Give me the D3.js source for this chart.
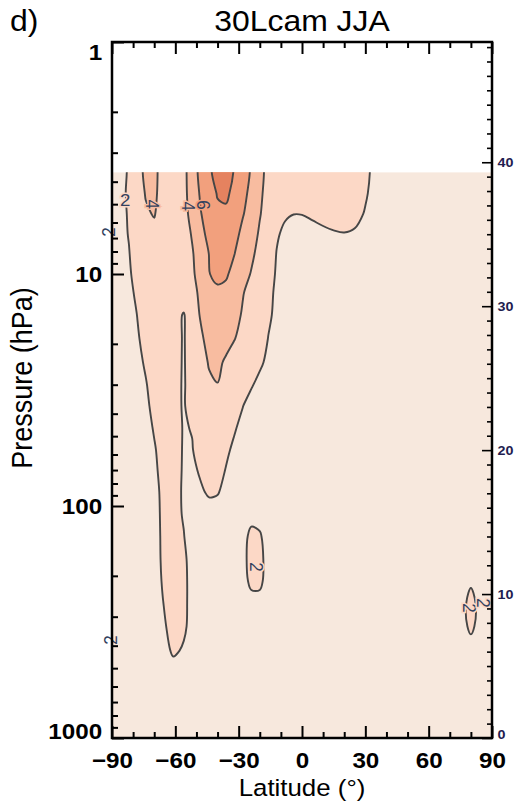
<!DOCTYPE html>
<html>
<head>
<meta charset="utf-8">
<script src="https://cdn.jsdelivr.net/npm/d3@7"></script>
<style>
  body { margin: 0; background: #fff; }
  svg { display: block; }
  text { font-family: "Liberation Sans", Arial, Helvetica, sans-serif; }
</style>
</head>
<body>
<svg id="chart" width="520" height="801"></svg>
<script>
// Grid latitudes (deg) and model pressure levels (hPa)
const lats = [-90, -86, -82, -78, -74, -70, -66, -61, -56, -52, -48, -44, -40, -36, -32, -28, -24, -20, -16, -12,
              -8, -4, 0, 5, 10, 15, 20, 25, 30, 35, 40, 50, 60, 70, 75, 80, 85, 90];
const pressures = [3.64, 4.5, 5.5, 6.7, 8.2, 10, 12, 15, 19, 24, 30, 37, 46, 57, 70, 87, 108, 135, 170, 210,
                   260, 330, 420, 520, 650, 800, 1000];

// Zonal-mean field, one row per pressure level, one value per latitude
const r0  = [1.4,1.7,2.1,3.3,4.4,4.4,3.4,3.2,3.7,4.6, 6.8,7.6,8.9,9.3,7.8,6.9,5.8,4.5,3.5,3.2, 3.0,2.8,2.6,2.6,2.6,2.6,2.6,2.5,2.3,1.6, 1.4,1.2,1.1,1.1,1.1,1.2,1.2,1.2];
const r1  = [1.4,1.75,2.15,3.2,4.1,4.3,3.4,3.2,3.7,4.5, 6.3,7.3,8.1,8.4,7.4,6.5,5.5,4.3,3.4,3.0, 2.8,2.6,2.5,2.6,2.6,2.6,2.6,2.5,2.15,1.5, 1.3,1.1,1.1,1.1,1.1,1.2,1.2,1.2];
const r2  = [1.4,1.7,2.1,3.0,3.8,4.1,3.3,3.1,3.6,4.4, 5.9,7.0,7.7,7.6,7.1,6.1,5.3,4.1,3.3,2.7, 2.15,2.02,2.05,2.3,2.4,2.5,2.5,2.4,1.9,1.4, 1.2,1.1,1.1,1.1,1.1,1.1,1.1,1.1];
const r3  = [1.4,1.7,2.05,2.8,3.2,3.6,3.3,3.2,3.5,4.1, 5.5,6.5,6.9,7.0,6.5,5.6,4.7,3.8,3.0,2.15, 1.75,1.5,1.2,1.4,1.75,1.9,1.97,1.85,1.5,1.3, 1.2,1.1,1.1,1.1,1.1,1.1,1.1,1.1];
const r4  = [1.4,1.6,1.95,2.5,2.8,3.0,3.1,3.2,3.5,3.9, 4.6,6.05,6.5,6.6,6.02,5.2,4.3,3.5,2.8,1.95, 1.5,1.3,1.1,1.2,1.3,1.4,1.45,1.4,1.3,1.2, 1.1,1.1,1.1,1.1,1.1,1.1,1.1,1.1];
const r5  = [1.4,1.5,1.85,2.4,2.6,2.8,2.9,3.0,3.3,3.8, 4.5,5.95,6.4,6.2,5.5,4.6,3.9,3.2,2.6,1.85, 1.4,1.2,1.1,1.1,1.1,1.1,1.1,1.1,1.1,1.1, 1.1,1.1,1.1,1.1,1.1,1.1,1.1,1.1];
const r6  = [1.4,1.5,1.75,2.2,2.5,2.7,2.8,2.9,3.2,3.7, 4.2,5.0,5.7,5.6,5.0,4.1,3.4,2.9,2.3,1.8, 1.3,1.2,1.1,1.1,1.1,1.1,1.1,1.1,1.1,1.1, 1.1,1.1,1.1,1.1,1.1,1.1,1.1,1.1];
const r7  = [1.3,1.4,1.6,2.02,2.4,2.6,2.7,2.8,1.85,3.4, 4.1,4.7,5.3,5.2,4.6,3.8,3.2,2.7,2.15,1.8, 1.3,1.2,1.1,1.1,1.1,1.1,1.1,1.1,1.1,1.1, 1.1,1.1,1.1,1.1,1.1,1.1,1.1,1.1];
const r8  = [1.3,1.4,1.6,1.9,2.3,2.5,2.6,2.7,1.85,3.1, 3.8,4.4,4.7,4.5,4.05,3.5,2.9,2.5,1.98,1.6, 1.3,1.2,1.1,1.1,1.1,1.1,1.1,1.1,1.1,1.1, 1.1,1.1,1.1,1.1,1.1,1.1,1.1,1.1];
const r9  = [1.3,1.4,1.5,1.8,2.1,2.4,2.5,2.6,1.85,2.9, 3.5,4.1,4.3,3.8,3.3,2.9,2.6,2.2,1.75,1.5, 1.3,1.2,1.1,1.1,1.1,1.1,1.1,1.1,1.1,1.1, 1.1,1.1,1.1,1.1,1.1,1.1,1.1,1.1];
const r10 = [1.3,1.35,1.45,1.7,1.95,2.3,2.4,2.5,1.85,2.7, 3.2,3.8,3.97,3.6,3.1,2.6,2.1,1.7,1.5,1.35, 1.25,1.2,1.1,1.1,1.1,1.1,1.1,1.1,1.1,1.1, 1.1,1.1,1.1,1.1,1.1,1.1,1.1,1.1];
const r11 = [1.3,1.35,1.45,1.65,1.85,2.2,2.3,2.35,1.9,2.5, 2.9,3.2,3.3,3.1,2.7,2.02,1.6,1.45,1.35,1.3, 1.2,1.15,1.1,1.1,1.1,1.1,1.1,1.1,1.1,1.1, 1.1,1.1,1.1,1.1,1.1,1.1,1.1,1.1];
const r12 = [1.3,1.35,1.45,1.6,1.8,2.05,2.25,2.3,1.95,2.03, 2.5,2.8,2.9,2.7,2.1,1.7,1.45,1.35,1.3,1.25, 1.2,1.15,1.1,1.1,1.1,1.1,1.1,1.1,1.1,1.1, 1.1,1.1,1.1,1.1,1.1,1.1,1.1,1.1];
const r13 = [1.3,1.35,1.45,1.55,1.7,1.95,2.2,2.25,1.95,1.97, 2.3,2.55,2.6,2.2,1.8,1.55,1.4,1.35,1.3,1.25, 1.2,1.15,1.1,1.1,1.1,1.1,1.1,1.1,1.1,1.1, 1.1,1.1,1.1,1.1,1.1,1.1,1.1,1.1];
const r14 = [1.3,1.35,1.4,1.5,1.65,1.9,2.15,2.2,1.95,1.85, 2.1,2.35,2.4,1.95,1.65,1.5,1.4,1.35,1.3,1.25, 1.2,1.15,1.1,1.1,1.1,1.1,1.1,1.1,1.1,1.1, 1.1,1.1,1.1,1.1,1.1,1.1,1.1,1.1];
const r15 = [1.3,1.35,1.4,1.5,1.6,1.85,2.1,2.15,1.95,1.8, 1.9,2.1,2.05,1.8,1.6,1.5,1.45,1.4,1.3,1.25, 1.2,1.15,1.1,1.1,1.1,1.1,1.1,1.1,1.1,1.1, 1.1,1.1,1.1,1.1,1.1,1.1,1.1,1.1];
const r16 = [1.3,1.35,1.4,1.45,1.55,1.8,2.1,2.2,1.95,1.7, 1.65,1.7,1.7,1.6,1.5,1.45,1.6,1.5,1.35,1.25, 1.2,1.15,1.1,1.1,1.1,1.1,1.1,1.1,1.1,1.1, 1.1,1.1,1.1,1.1,1.1,1.1,1.1,1.1];
const r17 = [1.3,1.35,1.4,1.45,1.5,1.75,2.1,2.25,2.02,1.7, 1.6,1.55,1.5,1.45,1.45,1.6,2.3,2.15,1.4,1.3, 1.2,1.15,1.1,1.1,1.1,1.1,1.1,1.1,1.1,1.1, 1.1,1.1,1.1,1.1,1.1,1.1,1.1,1.1];
const r18 = [1.3,1.35,1.4,1.45,1.5,1.7,2.1,2.3,2.15,1.7, 1.55,1.5,1.45,1.45,1.45,1.6,2.5,2.4,1.45,1.3, 1.2,1.15,1.1,1.1,1.1,1.1,1.1,1.1,1.1,1.1, 1.1,1.1,1.1,1.2,1.3,1.5,1.3,1.2];
const r19 = [1.3,1.35,1.4,1.45,1.5,1.7,2.05,2.3,2.2,1.7, 1.55,1.5,1.45,1.45,1.45,1.55,2.3,2.3,1.45,1.3, 1.2,1.15,1.1,1.1,1.1,1.1,1.1,1.1,1.1,1.1, 1.1,1.1,1.1,1.2,1.3,1.7,1.3,1.25];
const r20 = [1.3,1.35,1.4,1.45,1.5,1.65,1.98,2.3,2.2,1.7, 1.55,1.5,1.45,1.45,1.45,1.5,1.6,1.6,1.45,1.3, 1.2,1.15,1.1,1.1,1.1,1.1,1.1,1.1,1.1,1.1, 1.1,1.1,1.1,1.15,1.2,2.6,1.2,1.3];
const r21 = [1.3,1.35,1.4,1.45,1.5,1.6,1.85,2.3,2.15,1.7, 1.55,1.5,1.45,1.45,1.45,1.45,1.45,1.4,1.35,1.3, 1.2,1.15,1.1,1.1,1.1,1.1,1.1,1.1,1.1,1.1, 1.1,1.1,1.1,1.15,1.2,2.4,1.2,1.3];
const r22 = [1.3,1.35,1.4,1.45,1.5,1.55,1.6,2.15,1.9,1.65, 1.5,1.5,1.45,1.45,1.45,1.45,1.45,1.4,1.35,1.3, 1.2,1.15,1.1,1.1,1.1,1.1,1.1,1.1,1.1,1.1, 1.1,1.1,1.1,1.1,1.15,1.2,1.15,1.2];
const r23 = [1.3,1.35,1.4,1.45,1.5,1.5,1.55,1.6,1.55,1.5, 1.45,1.4,1.4,1.4,1.4,1.4,1.4,1.35,1.3,1.25, 1.2,1.15,1.1,1.1,1.1,1.1,1.1,1.1,1.1,1.1, 1.1,1.1,1.1,1.1,1.1,1.1,1.1,1.1];
const r24 = [1.3,1.3,1.35,1.4,1.4,1.45,1.45,1.5,1.45,1.4, 1.4,1.35,1.35,1.35,1.35,1.35,1.3,1.3,1.25,1.2, 1.2,1.15,1.1,1.1,1.1,1.1,1.1,1.1,1.1,1.1, 1.1,1.1,1.1,1.1,1.1,1.1,1.1,1.1];
const r25 = [1.25,1.25,1.3,1.3,1.35,1.35,1.4,1.4,1.4,1.35, 1.3,1.3,1.3,1.3,1.3,1.25,1.25,1.2,1.2,1.2, 1.15,1.1,1.1,1.1,1.1,1.1,1.1,1.1,1.1,1.1, 1.1,1.1,1.1,1.1,1.1,1.1,1.1,1.1];
const r26 = [1.2,1.2,1.25,1.25,1.3,1.3,1.3,1.3,1.3,1.3, 1.25,1.25,1.25,1.2,1.2,1.2,1.2,1.15,1.15,1.15, 1.1,1.1,1.1,1.1,1.1,1.1,1.1,1.1,1.1,1.1, 1.1,1.1,1.1,1.1,1.1,1.1,1.1,1.1];
const field = [r0, r1, r2, r3, r4, r5, r6, r7, r8, r9, r10, r11, r12, r13, r14, r15, r16, r17, r18, r19,
               r20, r21, r22, r23, r24, r25, r26];

// Contour levels and shading
const levels = [2, 4, 6, 8];
const levelColors = ["#fcd8c6", "#f8bca0", "#f2a07d", "#e5825f"];
const baseColor = "#f7e8dd";

// Axis ticks
const latTicks = [-90, -60, -30, 0, 30, 60, 90];
const latMinorTicks = [-80, -70, -50, -40, -20, -10, 10, 20, 40, 50, 70, 80];
const pressureTicks = [1, 10, 100, 1000];
const pressureMinorTicks = [2, 3, 4, 5, 6, 7, 8, 9, 20, 30, 40, 50, 60, 70, 80, 90, 200, 300, 400, 500, 600, 700, 800, 900];
const heightTicks = [0, 10, 20, 30, 40];
const heightMinorTicks = d3.range(1, 49).filter(z => z % 10 !== 0);

// Contour labels (text, latitude, pressure, rotation)
const contourLabels = [
  { text: "2", lat: -83.8, p: 4.8,  rot: 0 },
  { text: "4", lat: -70.6, p: 5.0,  rot: 90 },
  { text: "4", lat: -53.5, p: 5.1,  rot: 90 },
  { text: "6", lat: -46.4, p: 5.04, rot: 90 },
  { text: "2", lat: -91.9, p: 6.6,  rot: -90 },
  { text: "2", lat: -90.6, p: 378,  rot: -90 },
  { text: "2", lat: -21.3, p: 183,  rot: 90 },
  { text: "2", lat: 79.6,  p: 275,  rot: 90 },
  { text: "2", lat: 86.2,  p: 262,  rot: 90 }
];

const stretch = 1.1;   // horizontal text stretch
const scaleHeightKm = 7;

const svg = d3.select("#chart");
const x = d3.scaleLinear().domain([-90, 90]).range([112, 492]);
const y = d3.scaleLog().domain([1, 1000]).range([42, 738]);
// log-pressure altitude is linear in height
const z = d3.scaleLinear().domain([0, scaleHeightKm * Math.log(1000)]).range([738, 42]);

const plotTop = y(pressures[0]);
const plotBottom = y(1000);

svg.append("defs").append("clipPath").attr("id", "plotClip")
  .append("rect")
  .attr("x", x(-90)).attr("y", plotTop)
  .attr("width", x(90) - x(-90)).attr("height", plotBottom - plotTop);

// ---- contour field ----
// pad the grid by one sample on every side so contour lines run off the data edges
const nx = lats.length + 2, ny = pressures.length + 2;
const values = new Array(nx * ny);
for (let j = 0; j < ny; j++) {
  const jj = Math.min(Math.max(j - 1, 0), pressures.length - 1);
  for (let i = 0; i < nx; i++) {
    const ii = Math.min(Math.max(i - 1, 0), lats.length - 1);
    values[j * nx + i] = field[jj][ii];
  }
}
const colPx = [x(lats[0]) - 30, ...lats.map(x), x(lats[lats.length - 1]) + 30];
const rowPx = [plotTop - 30, ...pressures.map(y), plotBottom + 30];
const gx = d3.scaleLinear().domain(colPx.map((_, i) => i + 0.5)).range(colPx);
const gy = d3.scaleLinear().domain(rowPx.map((_, i) => i + 0.5)).range(rowPx);

const contours = d3.contours().size([nx, ny]).thresholds(levels)(values);
const ringLine = d3.line().curve(d3.curveCatmullRomClosed.alpha(0.5));
function geomPath(geom) {
  return geom.coordinates.map(poly =>
    poly.map(ring => ringLine(ring.slice(0, -1).map(([a, b]) => [gx(a), gy(b)]))).join("")
  ).join("");
}

const plot = svg.append("g").attr("clip-path", "url(#plotClip)");
plot.append("rect")
  .attr("x", x(-90)).attr("y", plotTop)
  .attr("width", x(90) - x(-90)).attr("height", plotBottom - plotTop)
  .attr("fill", baseColor);
plot.selectAll("path.band").data(contours).join("path")
  .attr("class", "band")
  .attr("d", geomPath)
  .attr("fill", (d, i) => levelColors[i])
  .attr("fill-rule", "evenodd");
plot.selectAll("path.iso").data(contours).join("path")
  .attr("class", "iso")
  .attr("d", geomPath)
  .attr("fill", "none")
  .attr("stroke", "#464646")
  .attr("stroke-width", 1.9)
  .attr("stroke-linejoin", "round");

// contour labels
const bandColor = d3.scaleThreshold().domain(levels).range([baseColor, ...levelColors]);
svg.append("g").selectAll("text").data(contourLabels).join("text")
  .attr("transform", d => `translate(${x(d.lat)},${y(d.p)}) scale(${stretch},1) rotate(${d.rot})`)
  .attr("text-anchor", "middle")
  .attr("dy", "0.36em")
  .style("font-size", "17px")
  .style("paint-order", "stroke")
  .attr("stroke", d => (d.lat < -90 ? "none" : bandColor(+d.text)))
  .attr("stroke-width", 3)
  .attr("fill", "#34425e")
  .text(d => d.text);

// ---- axes ----
function styleTicks(g, w) {
  g.select(".domain").remove();
  g.selectAll(".tick line").attr("stroke", "#000").attr("stroke-width", w);
}
const fmt = d3.format("d");

// bottom
svg.append("g").attr("transform", `translate(0,${plotBottom})`)
  .call(d3.axisBottom(x).tickValues(latMinorTicks).tickSizeInner(-6).tickSizeOuter(0).tickFormat(""))
  .call(g => styleTicks(g, 2));
const bottomAxis = svg.append("g").attr("transform", `translate(0,${plotBottom})`)
  .call(d3.axisBottom(x).tickValues(latTicks).tickSizeInner(-12).tickSizeOuter(0).tickPadding(14).tickFormat(fmt))
  .call(g => styleTicks(g, 2));
bottomAxis.selectAll("text")
  .attr("transform", `scale(${stretch},1)`)
  .attr("fill", "#000")
  .style("font-size", "22px").style("font-weight", "bold")
  .style("font-family", '"Liberation Sans", Arial, sans-serif');

// top
svg.append("g").attr("transform", `translate(0,42)`)
  .call(d3.axisTop(x).tickValues(latMinorTicks).tickSizeInner(-6).tickSizeOuter(0).tickFormat(""))
  .call(g => styleTicks(g, 2));
svg.append("g").attr("transform", `translate(0,42)`)
  .call(d3.axisTop(x).tickValues(latTicks).tickSizeInner(-12).tickSizeOuter(0).tickFormat(""))
  .call(g => styleTicks(g, 2));

// left (pressure)
svg.append("g").attr("transform", `translate(112,0)`)
  .call(d3.axisLeft(y).tickValues(pressureMinorTicks).tickSizeInner(-6).tickSizeOuter(0).tickFormat(""))
  .call(g => styleTicks(g, 2));
const leftAxis = svg.append("g").attr("transform", `translate(112,0)`)
  .call(d3.axisLeft(y).tickValues(pressureTicks).tickSizeInner(-12).tickSizeOuter(0).tickPadding(9).tickFormat(fmt))
  .call(g => styleTicks(g, 2));
leftAxis.selectAll("text")
  .attr("transform", `scale(${stretch},1)`)
  .attr("fill", "#000")
  .attr("dy", d => (d === 1 ? "0.78em" : d === 1000 ? "0em" : "0.32em"))
  .style("font-size", "22px").style("font-weight", "bold")
  .style("font-family", '"Liberation Sans", Arial, sans-serif');

// right (log-pressure height, km)
svg.append("g").attr("transform", `translate(492,0)`)
  .call(d3.axisRight(z).tickValues(heightMinorTicks).tickSizeInner(-5).tickSizeOuter(0).tickFormat(""))
  .call(g => styleTicks(g, 1.6));
const rightAxis = svg.append("g").attr("transform", `translate(492,0)`)
  .call(d3.axisRight(z).tickValues(heightTicks).tickSizeInner(-10).tickSizeOuter(0).tickPadding(5).tickFormat(fmt))
  .call(g => styleTicks(g, 1.6));
rightAxis.selectAll("text")
  .attr("transform", `scale(${stretch},1)`)
  .attr("fill", "#1f2050")
  .attr("dy", d => (d === 0 ? "0em" : "0.32em"))
  .style("font-size", "13px").style("font-weight", "bold")
  .style("font-family", '"Liberation Sans", Arial, sans-serif');

// frame
svg.append("rect")
  .attr("x", 112).attr("y", 42).attr("width", 380).attr("height", 696)
  .attr("fill", "none").attr("stroke", "#000").attr("stroke-width", 2.5);

// titles
svg.append("text")
  .attr("transform", `translate(302,31) scale(${stretch},1)`)
  .attr("text-anchor", "middle")
  .style("font-size", "29px")
  .text("30Lcam JJA");
svg.append("text")
  .attr("transform", `translate(10,31) scale(${stretch},1)`)
  .style("font-size", "29px")
  .text("d)");
svg.append("text")
  .attr("transform", `translate(302,796) scale(${stretch},1)`)
  .attr("text-anchor", "middle")
  .style("font-size", "23.5px")
  .text("Latitude (°)");
svg.append("text")
  .attr("transform", `translate(32,378) scale(${stretch},1) rotate(-90)`)
  .attr("text-anchor", "middle")
  .style("font-size", "27px")
  .text("Pressure (hPa)");
</script>
</body>
</html>
